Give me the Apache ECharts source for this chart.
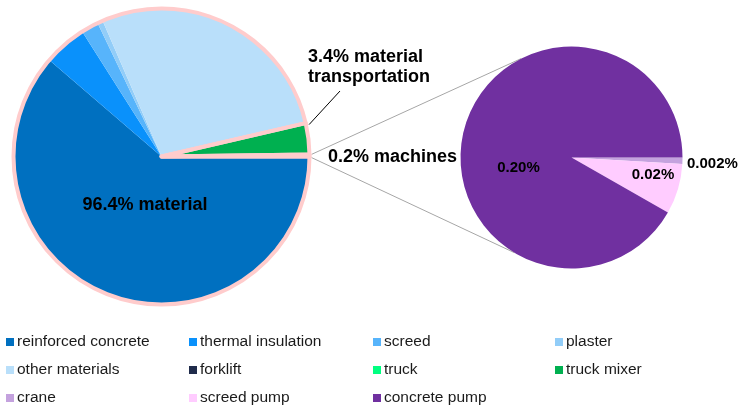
<!DOCTYPE html>
<html><head><meta charset="utf-8">
<script src="https://cdn.jsdelivr.net/npm/echarts@6/dist/echarts.min.js"></script>
<style>html,body{margin:0;padding:0;background:#fff}#c{width:742px;height:408px}</style>
</head><body><div id="c"></div>
<script>
// ---- data ----
const materialNames = ['reinforced concrete', 'thermal insulation', 'screed', 'plaster', 'other materials'];
const materialValues = [61.3, 4.7, 1.9, 0.6, 27.9];
const transportNames = ['forklift', 'truck', 'truck mixer'];
const transportValues = [0.01, 0.15, 3.24];
const machineNames = ['crane', 'screed pump', 'concrete pump'];
const machineValues = [0.002, 0.016, 0.2];
const groupNames = ['material', 'material\ntransportation', 'machines'];

// ---- styles ----
const colorMap = {
  'reinforced concrete': '#0070c0', 'thermal insulation': '#0a91fb', 'screed': '#57b4fb',
  'plaster': '#92cdf8', 'other materials': '#b9dffa', 'forklift': '#1f2b4b', 'truck': '#00ff80',
  'truck mixer': '#00b050', 'crane': '#c4a2de', 'screed pump': '#ffccff', 'concrete pump': '#7030a0'
};
const FONT = "'Liberation Sans', Arial, sans-serif";
const PINK = '#ffcccc';
const L = { cx: 161.5, cy: 156.5, r: 148 };
const R = { cx: 571.5, cy: 157.5, r: 111 };

const sum = a => a.reduce((s, v) => s + v, 0);
const mk = (names, vals) => names.map((n, i) => ({ name: n, value: vals[i], itemStyle: { color: colorMap[n] } }));
const detailData = [].concat(mk(materialNames, materialValues), mk(transportNames, transportValues), mk(machineNames, machineValues));
const groupData = [sum(materialValues), sum(transportValues), sum(machineValues)].map((v, i) => ({ name: groupNames[i], value: v }));

const chart = echarts.init(document.getElementById('c'), null, { renderer: 'canvas' });

const legendCols = [
  { left: 6, names: ['reinforced concrete', 'other materials', 'crane'] },
  { left: 189, names: ['thermal insulation', 'forklift', 'screed pump'] },
  { left: 373, names: ['screed', 'truck', 'concrete pump'] },
  { left: 555, names: ['plaster', 'truck mixer'] }
];

const rad = d => d * Math.PI / 180;
const onCircle = (c, r, deg) => [c.cx + r * Math.cos(rad(deg)), c.cy - r * Math.sin(rad(deg))];
const rimL = L.r + 2;
const up1 = onCircle(L, rimL, 0.8), up2 = onCircle(R, R.r, 117);
const lo1 = onCircle(L, rimL, -0.4), lo2 = onCircle(R, R.r, -121);
const lead1 = onCircle(L, rimL + 1, 12.2);

chart.setOption({
  animation: false,
  textStyle: { fontFamily: FONT },
  legend: legendCols.map(c => ({
    orient: 'vertical', left: c.left, top: 333, padding: 0,
    itemWidth: 8, itemHeight: 8, itemGap: 10, icon: 'rect',
    selectedMode: false,
    data: c.names,
    textStyle: { fontFamily: FONT, fontSize: 15.5, color: '#1a1a1a', lineHeight: 18, padding: [0, 0, 0, -2] }
  })),
  graphic: [
    { type: 'line', shape: { x1: up1[0], y1: up1[1], x2: up2[0], y2: up2[1] }, style: { stroke: '#a6a6a6', lineWidth: 1 }, z: 1 },
    { type: 'line', shape: { x1: lo1[0], y1: lo1[1], x2: lo2[0], y2: lo2[1] }, style: { stroke: '#a6a6a6', lineWidth: 1 }, z: 1 }
  ],
  series: [
    {
      type: 'pie', silent: true, center: [L.cx, L.cy], radius: L.r,
      startAngle: 0, clockwise: true, minAngle: 0, avoidLabelOverlap: false,
      label: { show: false }, labelLine: { show: false },
      itemStyle: { borderWidth: 0 },
      emphasis: { disabled: true },
      data: detailData
    },
    {
      type: 'pie', silent: true, center: [L.cx, L.cy], radius: L.r,
      startAngle: 0, clockwise: true, avoidLabelOverlap: false, z: 3,
      itemStyle: { color: 'rgba(0,0,0,0)', borderColor: PINK, borderWidth: 4 },
      emphasis: { disabled: true },
      label: {
        show: true, position: 'outside', fontFamily: FONT, fontSize: 18, fontWeight: 'bold',
        color: '#000', lineHeight: 20,
        formatter: p => p.value.toFixed(1) + '% ' + p.name
      },
      labelLine: { show: false, lineStyle: { color: '#000', width: 1 } },
      labelLayout: p => {
        if (p.dataIndex === 0) return { x: 145, y: 205, align: 'center', verticalAlign: 'middle' };
        if (p.dataIndex === 1) return { x: 308, y: 67.5, align: 'left', verticalAlign: 'middle',
          labelLinePoints: [[lead1[0], lead1[1]], [340, 91]] };
        return { x: 328, y: 157.5, align: 'left', verticalAlign: 'middle' };
      },
      data: groupData.map((d, i) => i === 1 ? Object.assign({}, d, { labelLine: { show: true } }) : d)
    },
    {
      type: 'pie', silent: true, center: [R.cx, R.cy], radius: R.r,
      startAngle: 0, clockwise: true, avoidLabelOverlap: false,
      itemStyle: { borderWidth: 0 },
      emphasis: { disabled: true },
      label: {
        show: true, position: 'inside', fontFamily: FONT, fontSize: 15, fontWeight: 'bold', color: '#000',
        formatter: p => (p.value < 0.01 ? p.value.toFixed(3) : p.value.toFixed(2)) + '%'
      },
      labelLine: { show: false },
      labelLayout: p => {
        if (p.dataIndex === 2) return { x: R.cx - 53, y: R.cy + 10, align: 'center', verticalAlign: 'middle' };
        if (p.dataIndex === 1) return { x: R.cx + 81.5, y: R.cy + 17, align: 'center', verticalAlign: 'middle' };
        return { x: R.cx + 115.5, y: R.cy + 6, align: 'left', verticalAlign: 'middle' };
      },
      data: mk(machineNames, machineValues)
    }
  ]
});
</script></body></html>
